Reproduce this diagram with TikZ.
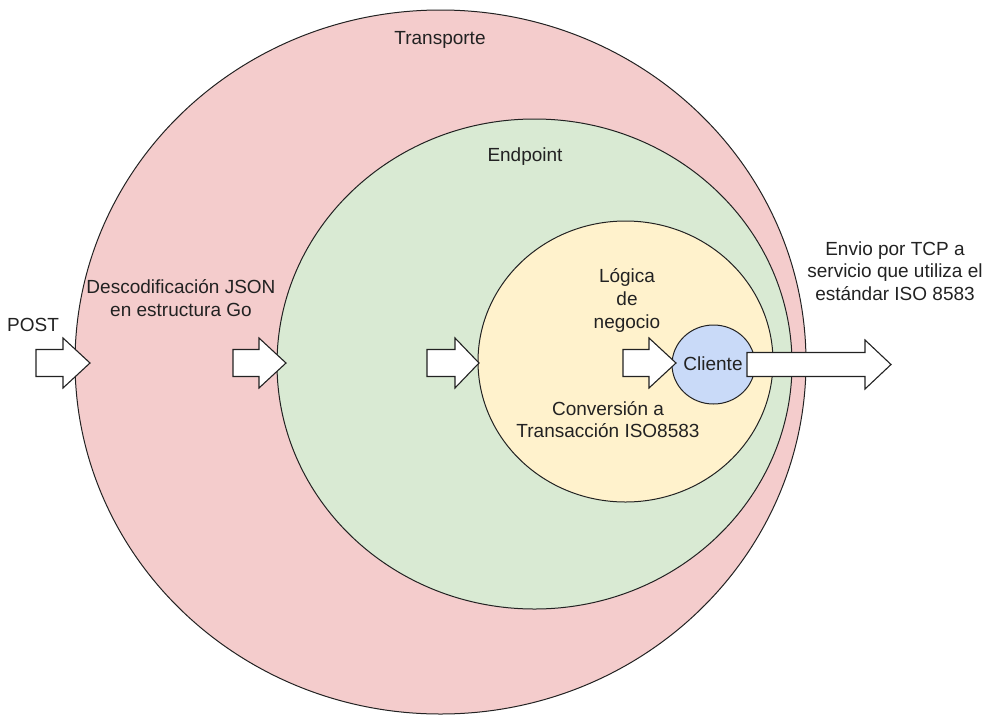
\documentclass[tikz,border=0pt]{standalone}
\usepackage{fontspec}
\setmainfont{Liberation Sans}
\usetikzlibrary{shapes.geometric}
\definecolor{layerred}{HTML}{F4CCCC}
\definecolor{layergreen}{HTML}{D9EAD3}
\definecolor{layeryellow}{HTML}{FFF2CC}
\definecolor{layerblue}{HTML}{C9DAF8}
\definecolor{inkgray}{HTML}{222222}
% block arrow: tail x, head base x, tip x, centre y
\newcommand{\blockarrow}[4]{%
  \draw[blockarrow] (#1,#4-13.5) -- (#2,#4-13.5) -- (#2,#4-25) -- (#3,#4)
    -- (#2,#4+25) -- (#2,#4+13.5) -- (#1,#4+13.5) -- cycle;}
\begin{document}
\begin{tikzpicture}[x=1pt,y=-1pt,
  layer/.style={ellipse, draw=inkgray, line width=1pt, inner sep=0pt},
  blockarrow/.style={draw=inkgray, fill=white, line width=1.1pt, line join=miter},
  lbl/.style={text=inkgray, align=center, inner sep=0pt,
    font=\fontsize{19}{22.5}\selectfont}]
\useasboundingbox (0,0) rectangle (984,715);

% nested layers
\node[layer, fill=layerred, minimum width=731pt, minimum height=704pt] (transporte) at (440.5,362) {};
\node[layer, fill=layergreen, minimum width=515pt, minimum height=490pt] (endpoint) at (534.5,364) {};
\node[layer, fill=layeryellow, minimum width=295pt, minimum height=281pt] (logica) at (625.5,361.5) {};
\node[layer, fill=layerblue, minimum width=83pt, minimum height=79pt] (cliente) at (713.5,364.5) {};

% labels
\node[lbl] (tTransporte) at (440,40) {Transporte};
\node[lbl] (tEndpoint) at (525,157) {Endpoint};
\node[lbl] (tPost) at (33,325) {POST};
\node[lbl] (tJson) at (181,298) {Descodificación JSON\\en estructura Go};
\node[lbl, font=\fontsize{19}{23}\selectfont] (tLogica) at (627,300) {Lógica\\de\\negocio};
\node[lbl] (tConv) at (608,419.5) {Conversión a\\Transacción ISO8583};
\node[lbl] (tCliente) at (713,364) {Cliente};
\node[lbl] (tTcp) at (895,271) {Envio por TCP a\\servicio que utiliza el\\estándar ISO 8583};

% request flow arrows
\blockarrow{36}{63}{90}{363}
\blockarrow{233}{259}{286}{363}
\blockarrow{427}{455}{479}{363}
\blockarrow{623}{649}{676}{363}
% outgoing TCP arrow
\draw[blockarrow] (747,352.5) -- (865,352.5) -- (865,340) -- (891,364.5)
  -- (865,389) -- (865,376.5) -- (747,376.5) -- cycle;
\end{tikzpicture}
\end{document}
